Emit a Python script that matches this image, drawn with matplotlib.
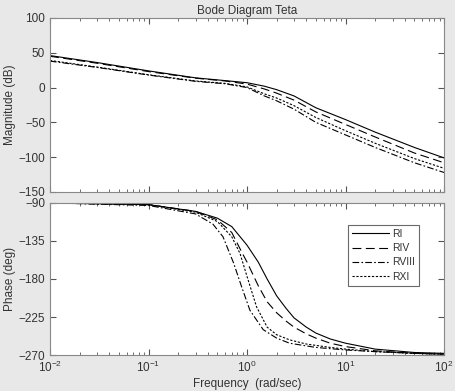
import matplotlib
matplotlib.use("Agg")
from matplotlib import pyplot as plt
import matplotlib.ticker as mticker

plt.rcParams['font.family'] = ['Liberation Sans', 'DejaVu Sans']

series_names = ["RI", "RIV", "RVIII", "RXI"]

# magnitude (dB)
mag_freq = [0.01, 0.03, 0.1, 0.3, 0.6, 1, 1.5, 2, 3, 5, 10, 20, 50, 100]
mag_RI = [46, 36, 24, 14, 10, 7, 2, -3, -12, -29, -46, -64, -86, -101]
mag_RIV = [45, 35, 23, 13.5, 9.5, 5, -2, -8, -18, -35, -53, -71, -94, -108]
mag_RVIII = [38, 29, 18, 9, 5.5, 0, -12, -19, -31, -50, -68, -86, -108, -122]
mag_RXI = [39, 29.5, 18.5, 9.5, 6, 1, -9, -15, -26, -43, -62, -80, -102, -116]

# phase (deg)
ph_freq_RI = [0.01, 0.1, 0.3, 0.5, 0.7, 1, 1.3, 1.6, 2, 2.5, 3, 4, 5, 7, 10, 20, 50, 100]
ph_RI = [-90, -92, -100, -108, -118, -140, -160, -180, -200, -215, -226, -237, -244, -251, -256, -263, -267, -268]
ph_freq_RIV = [0.01, 0.1, 0.3, 0.5, 0.7, 0.9, 1, 1.3, 1.6, 2, 2.5, 3, 4, 5, 7, 10, 20, 50, 100]
ph_RIV = [-90, -92, -100, -110, -125, -150, -160, -188, -207, -220, -230, -237, -245, -250, -256, -260, -265, -268, -269]
ph_freq_RVIII = [0.01, 0.1, 0.3, 0.45, 0.57, 0.73, 0.88, 1.07, 1.46, 2, 2.7, 5, 10, 20, 50, 100]
ph_RVIII = [-90, -93, -103, -115, -130, -161, -189, -217, -240, -250, -256, -261, -264, -266, -268, -269]
ph_freq_RXI = [0.01, 0.1, 0.3, 0.5, 0.7, 0.85, 1, 1.25, 1.6, 2, 2.7, 4, 7, 10, 20, 50, 100]
ph_RXI = [-90, -92, -101, -112, -130, -150, -177, -213, -237, -246, -252, -257, -261, -263, -266, -268, -269]

styles = {"RI": "-", "RIV": (0, (8, 4)), "RVIII": (0, (6, 2, 1.5, 2)), "RXI": (0, (2, 1.5))}

bg = "#e8e8e8"
fig = plt.figure(figsize=(4.55, 3.91), dpi=100, facecolor=bg)
ax1 = fig.add_axes([0.1099, 0.509, 0.866, 0.445])
ax2 = fig.add_axes([0.1099, 0.092, 0.866, 0.389])

mags = [mag_RI, mag_RIV, mag_RVIII, mag_RXI]
for name, m in zip(series_names, mags):
    ax1.semilogx(mag_freq, m, linestyle=styles[name], color="black", linewidth=0.8)

phs = [(ph_freq_RI, ph_RI), (ph_freq_RIV, ph_RIV), (ph_freq_RVIII, ph_RVIII), (ph_freq_RXI, ph_RXI)]
for name, (f, p) in zip(series_names, phs):
    ax2.semilogx(f, p, linestyle=styles[name], color="black", linewidth=0.8, label=name)

for ax in (ax1, ax2):
    ax.set_xlim(0.01, 100)
    ax.tick_params(which="both", direction="in", top=True, right=True,
                   labelsize=8.5, colors="#555555", labelcolor="#333333")
    ax.tick_params(which="major", length=4)
    ax.tick_params(which="minor", length=2)
    for s in ax.spines.values():
        s.set_color("#888888")
        s.set_linewidth(0.8)

ax1.set_ylim(-150, 100)
ax1.set_yticks([-150, -100, -50, 0, 50, 100])
ax1.tick_params(axis="x", which="both", labelbottom=False)
ax1.set_ylabel("Magnitude (dB)", fontsize=8.5, color="#333333", labelpad=2)
ax1.set_title("Bode Diagram Teta", fontsize=8.5, color="#333333", pad=3)

ax2.set_ylim(-270, -90)
ax2.set_yticks([-270, -225, -180, -135, -90])
ax2.set_xticks([0.01, 0.1, 1, 10, 100])
ax2.xaxis.set_major_formatter(mticker.LogFormatterSciNotation())
ax2.set_ylabel("Phase (deg)", fontsize=8.5, color="#333333", labelpad=2)
ax2.set_xlabel("Frequency  (rad/sec)", fontsize=8.5, color="#333333", labelpad=2)

leg = ax2.legend(loc="upper right", bbox_to_anchor=(0.95, 0.89), fontsize=7.5,
                 frameon=True, fancybox=False, handlelength=3.5, handletextpad=0.3,
                 labelspacing=0.4, borderpad=0.4)
leg.get_frame().set_edgecolor("#444444")
leg.get_frame().set_linewidth(0.8)
for t in leg.get_texts():
    t.set_color("#333333")

fig.savefig("out.png", dpi=100, facecolor=bg)
